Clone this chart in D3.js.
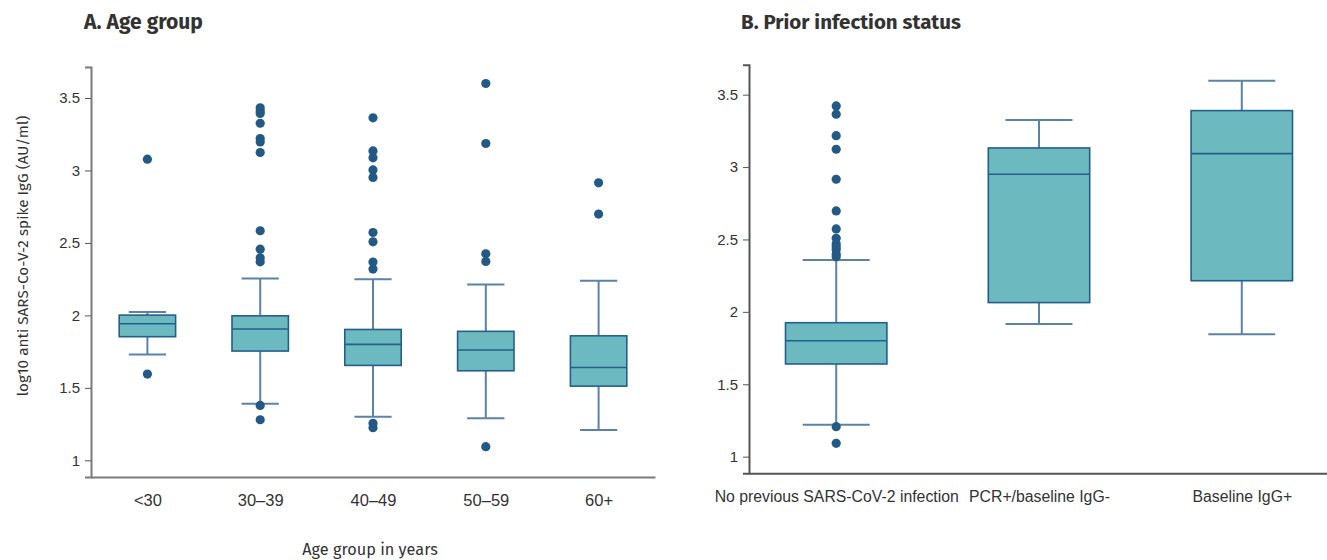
<!DOCTYPE html>
<html>
<head>
<meta charset="utf-8">
<script src="https://cdn.jsdelivr.net/npm/d3@7"></script>
<style>
  body { margin: 0; background: #fff; }
  svg { display: block; font-family: "Fira Sans", "Open Sans", "Noto Sans", sans-serif; }
</style>
</head>
<body>
<svg id="chart" width="1327" height="560"></svg>
<script>
// Panel A: age group
const ageGroups = ['<30', '30–39', '40–49', '50–59', '60+'];
const ageLow = [1.73, 1.39, 1.30, 1.29, 1.21];
const ageQ1 = [1.853, 1.754, 1.655, 1.618, 1.512];
const ageMedian = [1.942, 1.906, 1.80, 1.761, 1.641];
const ageQ3 = [2.002, 1.997, 1.903, 1.89, 1.859];
const ageHigh = [2.023, 2.255, 2.25, 2.214, 2.239];
const ageOutliers = [
  [3.078, 1.595],
  [3.432, 3.411, 3.393, 3.326, 3.22, 3.197, 3.124, 2.584, 2.457, 2.397, 2.37, 1.379, 1.28],
  [3.363, 3.135, 3.087, 3.004, 2.952, 2.572, 2.508, 2.368, 2.32, 1.255, 1.225],
  [3.60, 3.186, 2.425, 2.372, 1.094],
  [2.915, 2.699]
];

// Panel B: prior infection status
const statusGroups = ['No previous SARS-CoV-2 infection', 'PCR+/baseline IgG-', 'Baseline IgG+'];
const statusLow = [1.221, 1.916, 1.845];
const statusQ1 = [1.640, 2.064, 2.215];
const statusMedian = [1.80, 2.950, 3.093];
const statusQ3 = [1.925, 3.132, 3.39];
const statusHigh = [2.358, 3.325, 3.597];
const statusOutliers = [
  [3.422, 3.365, 3.217, 3.123, 2.916, 2.697, 2.573, 2.508, 2.47, 2.45, 2.43, 2.40, 2.38, 1.207, 1.092],
  [],
  []
];

const yTicks = [1, 1.5, 2, 2.5, 3, 3.5];

const boxFill = '#6cb9bf';
const boxStroke = '#245f8a';
const whiskerStroke = '#5b83a6';
const dotFill = '#225a85';

const svg = d3.select('#chart');

function tickFmt(d) {
  return d3.format('~g')(d);
}

function drawPanel(opts) {
  const { cats, low, q1, med, q3, high, outliers, xRange, yRange, yDomain, padding, axisColor, labelSize } = opts;

  const x = d3.scalePoint().domain(cats).range(xRange).padding(padding);
  const y = d3.scaleLinear().domain(yDomain).range(yRange);
  const step = x.step();
  const boxW = step * 0.5;
  const capW = boxW * 0.66;

  const g = svg.append('g');

  // y axis
  const yAxis = g.append('g')
    .attr('transform', `translate(${xRange[0]},0)`)
    .call(d3.axisLeft(y).tickValues(yTicks).tickFormat(tickFmt).tickSizeOuter(0).tickSize(6).tickPadding(5));
  yAxis.select('.domain').attr('stroke', axisColor).attr('stroke-width', 2);
  yAxis.selectAll('.tick line').attr('stroke', '#555');
  yAxis.selectAll('.tick text').attr('fill', '#333').attr('font-size', 15);

  // x axis
  const xAxis = g.append('g')
    .attr('transform', `translate(0,${yRange[0]})`)
    .call(d3.axisBottom(x).tickSize(0).tickSizeOuter(0).tickPadding(17));
  xAxis.select('.domain').attr('stroke', axisColor).attr('stroke-width', 2);
  xAxis.selectAll('.tick text').attr('fill', '#333').attr('font-size', labelSize);

  const data = cats.map((c, i) => ({ c, low: low[i], q1: q1[i], med: med[i], q3: q3[i], high: high[i], out: outliers[i] }));

  const box = g.selectAll('.box').data(data).join('g').attr('class', 'box');

  // whiskers
  box.append('line')
    .attr('x1', d => x(d.c)).attr('x2', d => x(d.c))
    .attr('y1', d => y(d.high)).attr('y2', d => y(d.q3))
    .attr('stroke', whiskerStroke).attr('stroke-width', 2);
  box.append('line')
    .attr('x1', d => x(d.c)).attr('x2', d => x(d.c))
    .attr('y1', d => y(d.q1)).attr('y2', d => y(d.low))
    .attr('stroke', whiskerStroke).attr('stroke-width', 2);
  box.append('line')
    .attr('x1', d => x(d.c) - capW / 2).attr('x2', d => x(d.c) + capW / 2)
    .attr('y1', d => y(d.high)).attr('y2', d => y(d.high))
    .attr('stroke', whiskerStroke).attr('stroke-width', 2);
  box.append('line')
    .attr('x1', d => x(d.c) - capW / 2).attr('x2', d => x(d.c) + capW / 2)
    .attr('y1', d => y(d.low)).attr('y2', d => y(d.low))
    .attr('stroke', whiskerStroke).attr('stroke-width', 2);

  // box
  box.append('rect')
    .attr('x', d => x(d.c) - boxW / 2)
    .attr('y', d => y(d.q3))
    .attr('width', boxW)
    .attr('height', d => y(d.q1) - y(d.q3))
    .attr('fill', boxFill)
    .attr('stroke', boxStroke)
    .attr('stroke-width', 1.6);
  box.append('line')
    .attr('x1', d => x(d.c) - boxW / 2).attr('x2', d => x(d.c) + boxW / 2)
    .attr('y1', d => y(d.med)).attr('y2', d => y(d.med))
    .attr('stroke', boxStroke).attr('stroke-width', 1.6);

  // outliers
  box.selectAll('circle')
    .data(d => d.out.map(v => ({ c: d.c, v })))
    .join('circle')
    .attr('cx', d => x(d.c))
    .attr('cy', d => y(d.v))
    .attr('r', 4.6)
    .attr('fill', dotFill);

  return { x, y };
}

drawPanel({
  cats: ageGroups, low: ageLow, q1: ageQ1, med: ageMedian, q3: ageQ3, high: ageHigh, outliers: ageOutliers,
  xRange: [91, 655], yRange: [477, 67], yDomain: [0.885, 3.714], padding: 0.5, axisColor: '#7a7a7a', labelSize: 16.5
});

drawPanel({
  cats: statusGroups, low: statusLow, q1: statusQ1, med: statusMedian, q3: statusQ3, high: statusHigh, outliers: statusOutliers,
  xRange: [749, 1329], yRange: [473.3, 64.7], yDomain: [0.885, 3.707], padding: 0.43, axisColor: '#555', labelSize: 15.8
});

// Titles
svg.append('text')
  .attr('x', 84).attr('y', 29)
  .attr('font-size', 21).attr('font-weight', 'bold').attr('fill', '#333')
  .text('A. Age group');

svg.append('text')
  .attr('x', 741).attr('y', 29)
  .attr('font-size', 20.5).attr('font-weight', 'bold').attr('fill', '#333')
  .text('B. Prior infection status');

// Axis titles
svg.append('text')
  .attr('transform', 'translate(28,256) rotate(-90)')
  .attr('text-anchor', 'middle')
  .attr('font-size', 15.3).attr('fill', '#333')
  .text('log10 anti SARS-Co-V-2 spike IgG (AU/ml)');

svg.append('text')
  .attr('x', 370).attr('y', 555)
  .attr('text-anchor', 'middle')
  .attr('font-size', 16.3).attr('fill', '#333')
  .text('Age group in years');
</script>
</body>
</html>
